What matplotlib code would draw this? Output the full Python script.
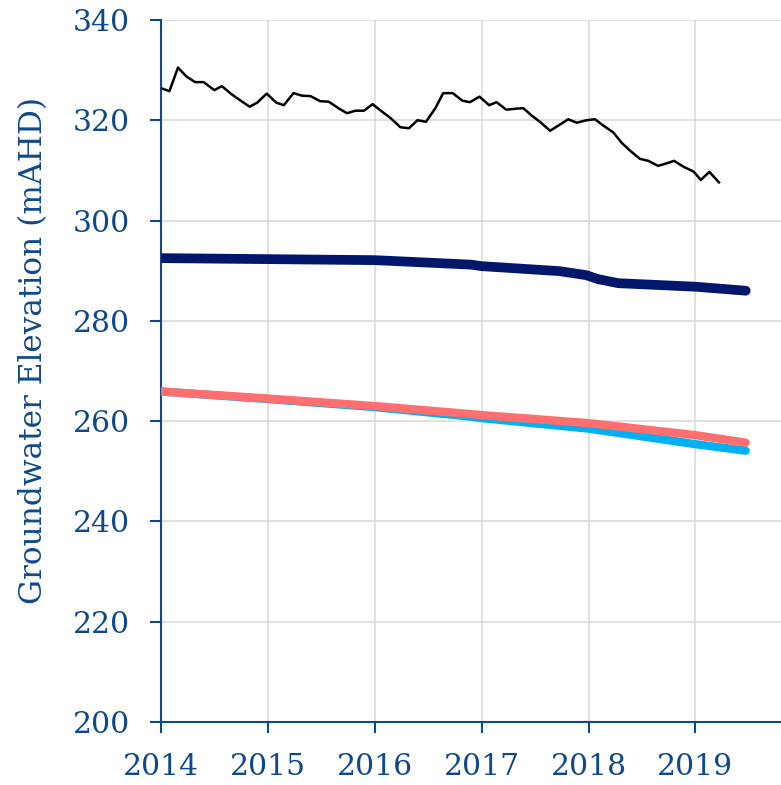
import numpy as np
import matplotlib
matplotlib.use('Agg')
import matplotlib.pyplot as plt

# Observed bore (monthly, decimal years)
obs_year = [2014.00, 2014.08, 2014.16, 2014.24, 2014.32, 2014.40, 2014.50, 2014.57,
            2014.66, 2014.74, 2014.83, 2014.90, 2014.99, 2015.08, 2015.15, 2015.24,
            2015.32, 2015.40, 2015.49, 2015.57, 2015.66, 2015.74, 2015.82, 2015.90,
            2015.98, 2016.07, 2016.15, 2016.24, 2016.32, 2016.40, 2016.48, 2016.57,
            2016.64, 2016.73, 2016.82, 2016.89, 2016.98, 2017.07, 2017.14, 2017.23,
            2017.32, 2017.39, 2017.47, 2017.55, 2017.64, 2017.73, 2017.81, 2017.89,
            2017.98, 2018.06, 2018.14, 2018.23, 2018.31, 2018.39, 2018.48, 2018.56,
            2018.65, 2018.73, 2018.80, 2018.89, 2018.98, 2019.05, 2019.13, 2019.22]
obs_level = [326.4, 325.8, 330.5, 328.7, 327.6, 327.6, 326.0, 326.8,
             325.2, 324.0, 322.7, 323.5, 325.3, 323.5, 323.0, 325.4,
             324.9, 324.8, 323.8, 323.7, 322.4, 321.4, 321.9, 321.9,
             323.2, 321.7, 320.4, 318.6, 318.4, 320.0, 319.7, 322.5,
             325.4, 325.4, 323.9, 323.6, 324.7, 323.0, 323.6, 322.1,
             322.3, 322.4, 320.9, 319.6, 317.9, 319.1, 320.2, 319.5,
             320.0, 320.2, 318.9, 317.6, 315.5, 313.9, 312.3, 311.9,
             310.9, 311.4, 311.9, 310.7, 309.8, 308.1, 309.7, 307.6]

# Modelled series
mod_year = [2014.00, 2015.00, 2016.00, 2016.90, 2017.00, 2017.73, 2017.98,
            2018.09, 2018.28, 2019.00, 2019.47]
navy_level = [292.5, 292.3, 292.1, 291.2, 290.9, 289.9, 289.1,
              288.3, 287.5, 286.8, 286.0]

model_year = [2014.00, 2015.00, 2016.00, 2016.90, 2017.00, 2018.00, 2019.00, 2019.47]
red_level = [265.9, 264.5, 263.0, 261.4, 261.2, 259.6, 257.2, 255.7]
blue_level = [265.9, 264.4, 262.8, 260.9, 260.6, 258.5, 255.4, 254.1]

y_ticks = [200, 220, 240, 260, 280, 300, 320, 340]
x_ticks = [2014, 2015, 2016, 2017, 2018, 2019]

txt = '#10498A'
plt.rcParams['font.family'] = ['DejaVu Serif']

fig = plt.figure(figsize=(7.81, 7.85), dpi=100)
ax = fig.add_axes([0.206, 0.0803, 0.794, 0.8943])

ax.plot(model_year, blue_level, color='#00B0F0', lw=6, solid_capstyle='round', zorder=3)
ax.plot(model_year, red_level, color='#FF6F6F', lw=6, solid_capstyle='round', zorder=4)
ax.plot(mod_year, navy_level, color='#00176B', lw=7, solid_capstyle='round', zorder=4)
ax.plot(obs_year, obs_level, color='black', lw=1.8, zorder=5)

ax.set_xlim(2014, 2019.8)
ax.set_ylim(200, 340)
ax.set_xticks(x_ticks)
ax.set_yticks(y_ticks)
ax.grid(True, color='#D9D9D9', lw=1.1)
ax.set_axisbelow(True)

for s in ['top', 'right']:
    ax.spines[s].set_visible(False)
for s in ['left', 'bottom']:
    ax.spines[s].set_color(txt)
    ax.spines[s].set_linewidth(1.5)

ax.tick_params(axis='both', colors=txt, labelsize=21.5, length=8, width=1.5)
ax.tick_params(axis='y', pad=14)
ax.tick_params(axis='x', pad=14)

fig.text(34 / 781, 1 - 350 / 785, 'Groundwater Elevation (mAHD)', rotation=90,
         ha='center', va='center', color=txt, fontsize=22.5)

fig.savefig('out.png', dpi=100)
